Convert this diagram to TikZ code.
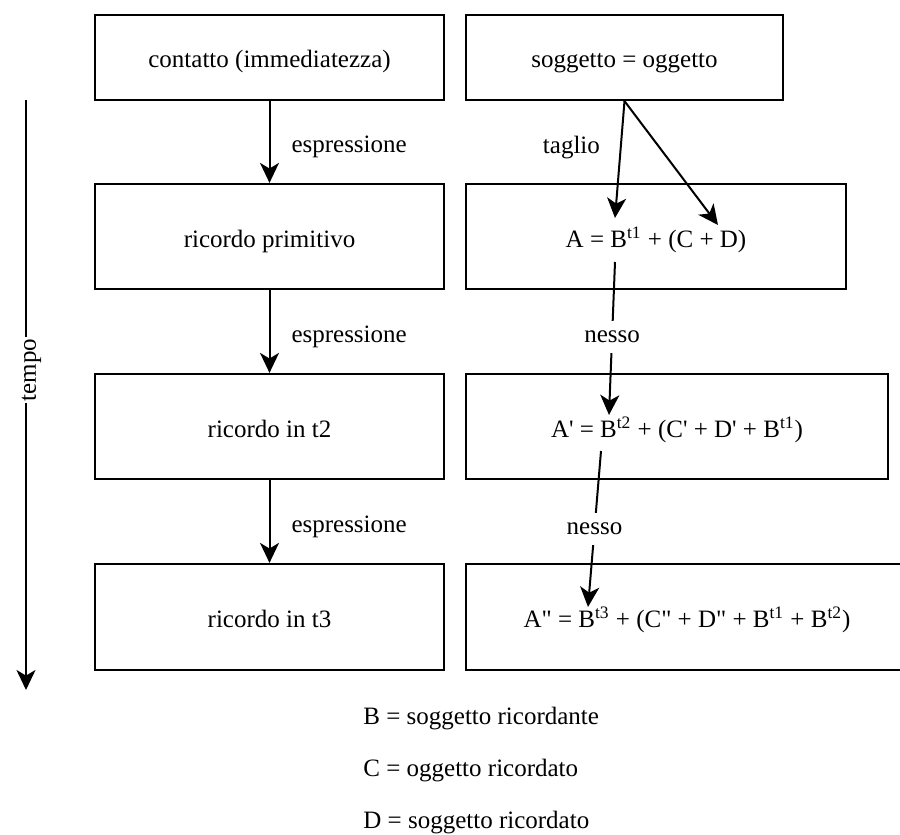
\documentclass[tikz,border=0pt]{standalone}
\usepackage{fontspec}
\setmainfont{Liberation Serif}[Ligatures=TeXOff]
\usetikzlibrary{arrows.meta}
\begin{document}
\begin{tikzpicture}[x=0.5pt,y=-0.5pt,
  font=\fontsize{12.5}{15}\selectfont,
  box/.style={draw, line width=1.1pt, inner sep=0pt, anchor=center, text height=13pt, text depth=2.5pt},
  arr/.style={line width=1pt, -{Stealth[length=10pt,width=9.5pt,inset=2.8pt]}},
  lab/.style={inner sep=0pt},
  cut/.style={fill=white, inner xsep=1pt, inner ysep=5pt},
  axislab/.style={fill=white, inner xsep=1pt, inner ysep=0.5pt, rotate=90}]
\useasboundingbox (0,0) rectangle (900,835);

% boxes
\node[box, minimum width=174.5pt, minimum height=42.5pt] (L1) at (269.5,57.5) {contatto (immediatezza)};
\node[box, minimum width=158.5pt, minimum height=42.5pt] (R1) at (624.5,57.5) {soggetto = oggetto};
\node[box, minimum width=174.5pt, minimum height=52.5pt] (L2) at (269.5,236.5) {ricordo primitivo};
\node[box, minimum width=190pt, minimum height=52.5pt] (R2) at (656,236.5) {A = B\textsuperscript{t1} + (C + D)};
\node[box, minimum width=174.5pt, minimum height=52.5pt] (L3) at (269.5,426.5) {ricordo in t2};
\node[box, minimum width=211pt, minimum height=52.5pt] (R3) at (677,426.5) {A' = B\textsuperscript{t2} + (C' + D' + B\textsuperscript{t1})};
\node[box, minimum width=174.5pt, minimum height=53pt] (L4) at (269.5,617) {ricordo in t3};
\node[box, minimum width=221pt, minimum height=53pt] (R4) at (687,617) {A" = B\textsuperscript{t3} + (C" + D" + B\textsuperscript{t1} + B\textsuperscript{t2})};

% left column arrows
\draw[arr] (L1) -- node[lab, right=10.5pt, yshift=-2.5pt] {espressione} (L2);
\draw[arr] (L2) -- node[lab, right=10.5pt, yshift=-2.5pt] {espressione} (L3);
\draw[arr] (L3) -- node[lab, right=10.5pt, yshift=-2.5pt] {espressione} (L4);

% taglio
\coordinate (tA) at (615,218);
\coordinate (tB) at (718,225);
\draw[arr] (R1.south) -- node[lab, pos=0.38, left=10pt, yshift=-1pt] {taglio} (tA);
\draw[arr] (R1.south) -- (tB);

% nesso
\coordinate (n1s) at (615,262);
\coordinate (n1e) at (609,415);
\coordinate (n2s) at (601,451);
\coordinate (n2e) at (588,607);
\draw[arr] (n1s) -- node[cut, pos=0.49] {nesso} (n1e);
\draw[arr] (n2s) -- node[cut, pos=0.5] {nesso} (n2e);

% time axis
\coordinate (ax0) at (26,100);
\coordinate (ax1) at (26,690);
\draw[arr] (ax0) -- (ax1);
\node[axislab] (tempo) at (31.5,370) {tempo};

% legend
\node[lab, anchor=base west] (lB) at (363,724) {B = soggetto ricordante};
\node[lab, anchor=base west] (lC) at (363,776) {C = oggetto ricordato};
\node[lab, anchor=base west] (lD) at (363,828) {D = soggetto ricordato};
\end{tikzpicture}
\end{document}
